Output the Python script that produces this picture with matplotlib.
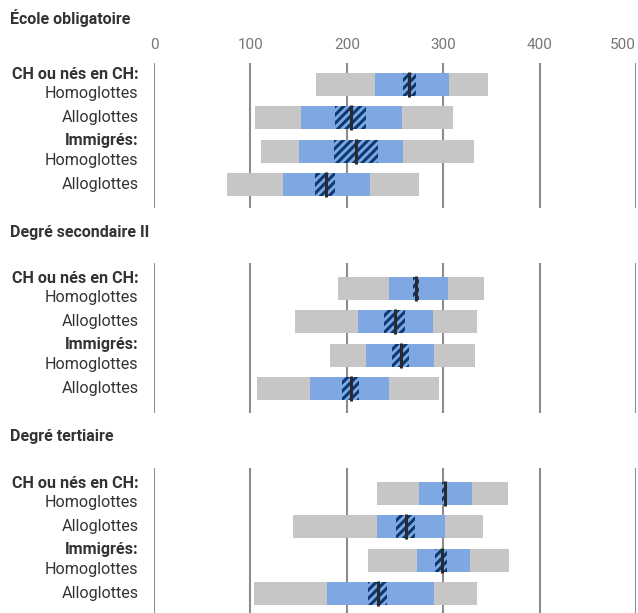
import numpy as np
import matplotlib.pyplot as plt
from matplotlib.transforms import blended_transform_factory

plt.rcParams['font.family'] = ['Roboto', 'DejaVu Sans']
plt.rcParams['hatch.linewidth'] = 2.2

# Données
panels = ["École obligatoire", "Degré secondaire II", "Degré tertiaire"]
groups = ["CH ou nés en CH:", "", "Immigrés:", ""]
rows = ["Homoglottes", "Alloglottes", "Homoglottes", "Alloglottes"]

# percentiles 5/25/75/95, intervalle de confiance de la moyenne, moyenne
p05 = [[168, 105, 111, 76], [191, 146, 183, 107], [231, 144, 222, 104]]
p25 = [[229, 153, 150, 134], [244, 212, 220, 162], [275, 231, 273, 179]]
p75 = [[306, 257, 258, 224], [305, 289, 290, 244], [330, 302, 328, 290]]
p95 = [[346, 310, 332, 275], [342, 335, 333, 296], [367, 341, 368, 335]]
ci_lo = [[258, 188, 187, 167], [269, 239, 247, 195], [299, 251, 292, 222]]
ci_hi = [[272, 220, 232, 188], [275, 260, 265, 213], [304, 271, 304, 242]]
mean = [[265, 204, 210, 178], [272, 250, 256, 204], [302, 261, 299, 232]]

ticks = [0, 100, 200, 300, 400, 500]

W, H = 638, 613
fig = plt.figure(figsize=(W / 100, H / 100), dpi=100)

# (haut, bas) de chaque zone en pixels, ylim
boxes = [(63, 208, 3.70, -0.64), (263, 413, 3.73, -0.76), (468, 613, 3.58, -0.76)]
title_y = [18, 233, 437]

gray = "#c6c6c6"
blue = "#7fa8e2"
navy = "#0b3a72"
txt = "#333333"

for k in range(3):
	top, bot, y0, y1 = boxes[k]
	ax = fig.add_axes([154 / W, 1 - bot / H, 482 / W, (bot - top) / H])
	y = np.arange(4)
	lo = np.array(p05[k]); q1 = np.array(p25[k]); q3 = np.array(p75[k]); hi = np.array(p95[k])
	cl = np.array(ci_lo[k]); ch = np.array(ci_hi[k])
	ax.barh(y, hi - lo, left=lo, height=0.69, color=gray, zorder=2)
	ax.barh(y, q3 - q1, left=q1, height=0.69, color=blue, zorder=3)
	ax.barh(y, ch - cl, left=cl, height=0.69, color=blue, edgecolor=navy,
		hatch="////", linewidth=0, zorder=4)
	ax.vlines(mean[k], y - 0.37, y + 0.37, color="#2a2a2a", lw=2.2, zorder=5)

	ax.set_xlim(0, 500)
	ax.set_ylim(y0, y1)
	ax.set_xticks(ticks)
	ax.set_yticks([])
	ax.grid(axis="x", color="#8c8c8c", lw=1.5, zorder=0)
	ax.set_axisbelow(True)
	for s in ax.spines.values():
		s.set_visible(False)
	ax.xaxis.tick_top()
	ax.tick_params(axis="x", length=0, pad=8, labelsize=11, labelcolor="#777777")
	if k == 0:
		labs = ax.get_xticklabels()
		labs[-1].set_horizontalalignment("right")
	else:
		ax.set_xticklabels([])

	tr = blended_transform_factory(ax.transAxes, ax.transData)
	for i in range(4):
		if groups[i]:
			ax.text(-0.032, i - 0.31, groups[i], transform=tr, ha="right", va="center",
				fontsize=11.6, fontweight="bold", color=txt)
			ax.text(-0.032, i + 0.27, rows[i], transform=tr, ha="right", va="center",
				fontsize=11.6, color=txt)
		else:
			ax.text(-0.032, i, rows[i], transform=tr, ha="right", va="center",
				fontsize=11.6, color=txt)

	fig.text(10 / W, 1 - title_y[k] / H, panels[k], ha="left", va="center",
		fontsize=11.5, fontweight="bold", color=txt)

fig.savefig("out.png", dpi=100)
